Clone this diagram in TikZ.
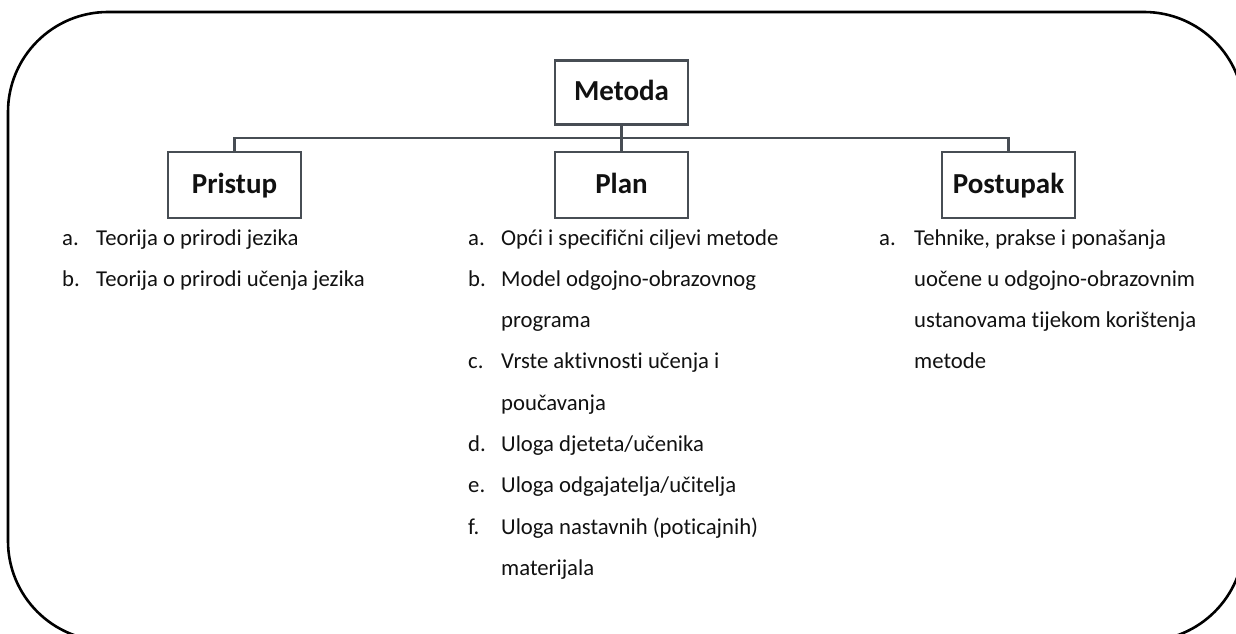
\documentclass[tikz,border=0pt]{standalone}
\usepackage{fontspec}
\setmainfont{Carlito}[Ligatures=NoCommon]
\definecolor{boxline}{HTML}{474D54}
\definecolor{txt}{HTML}{111111}
\tikzset{
  catbox/.style={draw=boxline, line width=2.8pt, fill=white, minimum width=133pt, minimum height=66pt, inner sep=0pt,
    text height=22pt, text depth=6pt,
    font=\bfseries\fontsize{29}{31}\selectfont, text=txt},
  conn/.style={draw=boxline, line width=2.8pt},
  itemtxt/.style={anchor=base west, inner sep=0pt, font=\fontsize{22.7}{26}\selectfont, text=txt},
  frame/.style={draw=black, line width=2.6pt, rounded corners=100pt}
}
\begin{document}
\begin{tikzpicture}[x=1pt,y=-1pt]
\useasboundingbox (0,0) rectangle (1236,634);
\draw[frame] (8,12) rectangle (1244,641);

\node[catbox, minimum height=64pt] (metoda) at (621.5,92.5) {Metoda};
\node[catbox] (pristup) at (234.5,185) {Pristup};
\node[catbox] (plan) at (621.5,185) {Plan};
\node[catbox] (postupak) at (1008.5,185) {Postupak};
\coordinate (bar) at (621.5,138);

\draw[conn] (metoda.south) -- (plan.north);
\draw[conn] (pristup.north) |- (bar) -| (postupak.north);

% Pristup
\node[itemtxt] (pa) at (62,245) {a.};
\node[itemtxt] (pat) at (96,245) {Teorija o prirodi jezika};
\node[itemtxt] (pb) at (62,286.3) {b.};
\node[itemtxt] (pbt) at (96,286.3) {Teorija o prirodi učenja jezika};

% Plan
\node[itemtxt] (la) at (468,245) {a.};
\node[itemtxt] (lat) at (501,245) {Opći i specifični ciljevi metode};
\node[itemtxt] (lb) at (468,286.3) {b.};
\node[itemtxt] (lbt) at (501,286.3) {Model odgojno-obrazovnog};
\node[itemtxt] (lbt2) at (501,327.6) {programa};
\node[itemtxt] (lc) at (468,368.9) {c.};
\node[itemtxt] (lct) at (501,368.9) {Vrste aktivnosti učenja i};
\node[itemtxt] (lct2) at (501,410.2) {poučavanja};
\node[itemtxt] (ld) at (468,451.5) {d.};
\node[itemtxt] (ldt) at (501,451.5) {Uloga djeteta/učenika};
\node[itemtxt] (le) at (468,492.8) {e.};
\node[itemtxt] (let) at (501,492.8) {Uloga odgajatelja/učitelja};
\node[itemtxt] (lf) at (468,534.1) {f.};
\node[itemtxt] (lft) at (501,534.1) {Uloga nastavnih (poticajnih)};
\node[itemtxt] (lft2) at (501,575.4) {materijala};

% Postupak
\node[itemtxt] (sa) at (879,245) {a.};
\node[itemtxt] (sat) at (914,245) {Tehnike, prakse i ponašanja};
\node[itemtxt] (sat2) at (914,286.3) {uočene u odgojno-obrazovnim};
\node[itemtxt] (sat3) at (914,327.6) {ustanovama tijekom korištenja};
\node[itemtxt] (sat4) at (914,368.9) {metode};
\end{tikzpicture}
\end{document}
